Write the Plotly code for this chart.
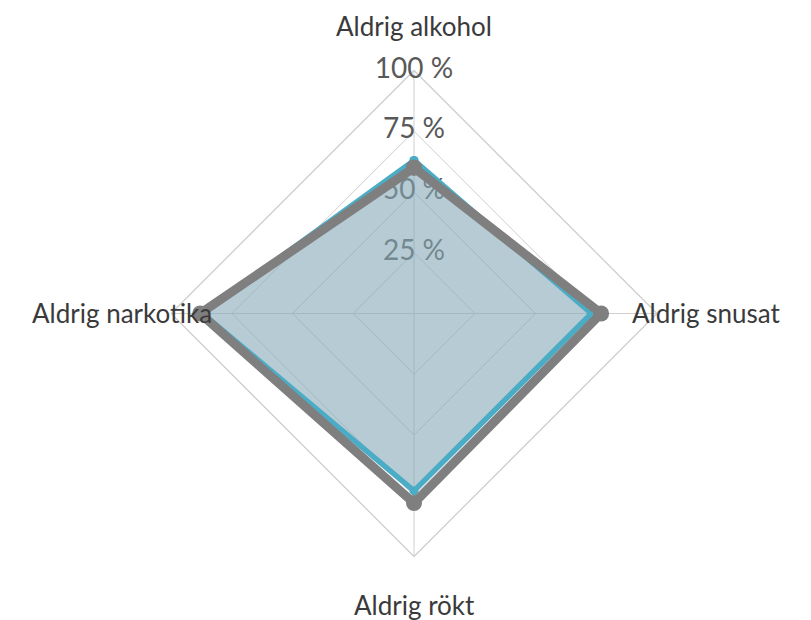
import plotly.graph_objects as go

categories = ["Aldrig alkohol", "Aldrig snusat", "Aldrig rökt", "Aldrig narkotika"]
series_blue = [63, 73, 73, 87]
series_gray = [60, 77, 78, 88]
tick_vals = [25, 50, 75, 100]
tick_text = ["25 %", "50 %", "75 %", "100 %"]
label_scale = [1.185, 1.2, 1.2, 1.2]

FONT = "Lato"

def closed(v):
    return list(v) + [v[0]]

fig = go.Figure()

# radial tick labels (drawn beneath the fill)
fig.add_trace(go.Scatterpolar(
    r=tick_vals, theta=[categories[0]] * len(tick_vals), mode="text",
    text=tick_text, textposition="middle center",
    textfont=dict(family=FONT, size=28, color="#595959"),
    showlegend=False, hoverinfo="skip", cliponaxis=False))

fig.add_trace(go.Scatterpolar(
    r=closed(series_blue), theta=closed(categories), mode="lines+markers",
    fill="toself", fillcolor="rgba(133,168,182,0.6)",
    line=dict(color="#4BACC6", width=5.5, shape="linear"),
    marker=dict(size=9, color="#4BACC6"),
    showlegend=False, cliponaxis=False))

fig.add_trace(go.Scatterpolar(
    r=closed(series_gray), theta=closed(categories), mode="lines+markers",
    line=dict(color="#7F7F7F", width=9),
    marker=dict(size=16, color="#7F7F7F"),
    showlegend=False, cliponaxis=False))

W, H = 811, 620
OFF = 8  # page body margin
cx, cy, R = 414 - OFF, 313.5 - OFF, 243

# category labels placed around the chart, like the angular tick labels
dirs = [(0, -1), (1, 0), (0, 1), (-1, 0)]
for name, (dx, dy), s in zip(categories, dirs, label_scale):
    px = cx + dx * R * s
    py = cy + dy * R * s
    fig.add_annotation(x=px / W, y=1 - py / H, xref="paper", yref="paper",
                       text=name, showarrow=False, xanchor="center", yanchor="middle",
                       borderpad=0,
                       font=dict(family=FONT, size=26, color="#3A3A3A"))

fig.update_layout(
    width=W, height=H,
    margin=dict(l=0, r=0, t=0, b=0),
    paper_bgcolor="white", plot_bgcolor="white",
    polar=dict(
        domain=dict(x=[(cx - R) / W, (cx + R) / W], y=[1 - (cy + R) / H, 1 - (cy - R) / H]),
        bgcolor="white",
        gridshape="linear",
        angularaxis=dict(type="category", categoryarray=categories, rotation=90,
                         direction="clockwise", showline=True, linecolor="#CFCFCF",
                         linewidth=1.3, gridcolor="#CFCFCF", gridwidth=1.3,
                         showticklabels=False, ticks="", layer="below traces"),
        radialaxis=dict(range=[0, 100], tickvals=tick_vals, showticklabels=False,
                        ticks="", showline=False, gridcolor="#CFCFCF", gridwidth=1.3,
                        layer="below traces"),
    ),
)

fig.write_html("out.html")
